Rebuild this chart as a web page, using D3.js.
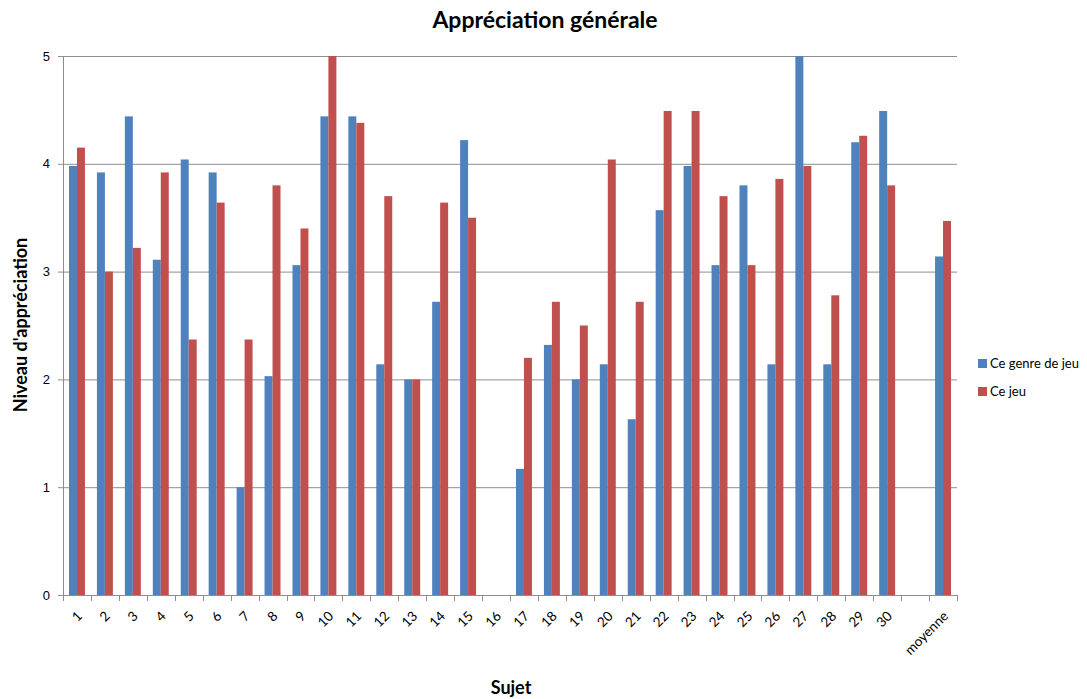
<!DOCTYPE html>
<html>
<head>
<meta charset="utf-8">
<script src="https://cdn.jsdelivr.net/npm/d3@7"></script>
<style>
body { margin: 0; background: #fff; }
svg { font-family: Lato, "Open Sans", sans-serif; }
.grid line { stroke: #8e8e8e; stroke-width: 1; }
.tick text { fill: #000; }
</style>
</head>
<body>
<svg id="chart" width="1087" height="699"></svg>
<script>
//////////////////////////////////////
// Data

const sujets = ["1","2","3","4","5","6","7","8","9","10","11","12","13","14","15","16","17","18","19","20","21","22","23","24","25","26","27","28","29","30"," ","moyenne"]
const seriesNames = ["Ce genre de jeu", "Ce jeu"]
const genreJeu = [3.98,3.92,4.44,3.11,4.04,3.92,1.0,2.03,3.06,4.44,4.44,2.14,2.0,2.72,4.22,null,1.17,2.32,2.0,2.14,1.63,3.57,3.98,3.06,3.8,2.14,5.0,2.14,4.2,4.49,null,3.14]
const ceJeu = [4.15,3.0,3.22,3.92,2.37,3.64,2.37,3.8,3.4,5.0,4.38,3.7,2.0,3.64,3.5,null,2.2,2.72,2.5,4.04,2.72,4.49,4.49,3.7,3.06,3.86,3.98,2.78,4.26,3.8,null,3.47]
const yTicks = [0,1,2,3,4,5]
const colors = ["#4F81BD", "#C0504D"]

//////////////////////////////////////
// Layout

const margin = {top: 56, right: 130, bottom: 104, left: 63}
const width = 1087, height = 699
const plotW = width - margin.left - margin.right
const plotH = height - margin.top - margin.bottom

const svg = d3.select("#chart")
const g = svg.append("g").attr("transform", "translate(" + margin.left + "," + margin.top + ")")

const x = d3.scaleBand().domain(sujets).range([0, plotW]).padding(0)
const x1 = d3.scaleBand().domain(seriesNames).range([0, x.bandwidth()]).paddingInner(0).paddingOuter(0.75)
const y = d3.scaleLinear().domain([0, 5]).range([plotH, 0])

// grid
g.append("g").attr("class", "grid")
	.selectAll("line").data(yTicks.filter(d => d > 0)).enter().append("line")
	.attr("x1", 0).attr("x2", plotW)
	.attr("y1", d => y(d) + 0.5).attr("y2", d => y(d) + 0.5)

// bars
const rows = sujets.map(function(s, i) { return {sujet: s, vals: [genreJeu[i], ceJeu[i]]} })
g.selectAll(".cat").data(rows).enter().append("g")
	.attr("transform", d => "translate(" + x(d.sujet) + ",0)")
	.selectAll("rect")
	.data(d => d.vals.map((v, k) => ({name: seriesNames[k], v: v, k: k})).filter(e => e.v != null))
	.enter().append("rect")
	.attr("x", d => x1(d.name))
	.attr("width", x1.bandwidth())
	.attr("y", d => y(d.v))
	.attr("height", d => plotH - y(d.v))
	.attr("fill", d => colors[d.k])

// y axis
const yAxis = g.append("g")
	.call(d3.axisLeft(y).tickValues(yTicks).tickFormat(d3.format("d")).tickSize(5).tickPadding(8))
yAxis.select(".domain").attr("stroke", "#8e8e8e")
yAxis.selectAll(".tick line").attr("stroke", "#8e8e8e")
yAxis.selectAll("text").style("font-size", "13px")

// x axis : ticks between categories
const xAxis = g.append("g").attr("transform", "translate(0," + plotH + ")")
xAxis.append("line").attr("x1", 0).attr("x2", plotW).attr("y1", 0.5).attr("y2", 0.5).attr("stroke", "#8e8e8e")
xAxis.selectAll(".xt").data(d3.range(sujets.length + 1)).enter().append("line")
	.attr("x1", d => Math.round(d * x.step()) + 0.5).attr("x2", d => Math.round(d * x.step()) + 0.5)
	.attr("y1", 0).attr("y2", 6).attr("stroke", "#8e8e8e")
xAxis.selectAll(".xl").data(sujets).enter().append("text")
	.attr("text-anchor", "end")
	.attr("transform", d => "translate(" + (x(d) + x.bandwidth() / 2 + 6) + ",22) rotate(-45)")
	.style("font-size", "13.5px")
	.text(d => d.trim())

// titles
svg.append("text").attr("x", 545).attr("y", 28).attr("text-anchor", "middle")
	.style("font-size", "23px").style("font-weight", "bold").text("Appréciation générale")
svg.append("text").attr("x", 511).attr("y", 694).attr("text-anchor", "middle")
	.style("font-size", "18px").style("font-weight", "bold").text("Sujet")
svg.append("text").attr("transform", "translate(27,325) rotate(-90)").attr("text-anchor", "middle")
	.style("font-size", "18px").style("font-weight", "bold").text("Niveau d'appréciation")

// legend
const legend = svg.append("g").attr("transform", "translate(978,359)")
seriesNames.forEach(function(s, i) {
	legend.append("rect").attr("x", 0).attr("y", i * 28).attr("width", 9).attr("height", 9).attr("fill", colors[i])
	legend.append("text").attr("x", 12).attr("y", i * 28 + 9).style("font-size", "13px").text(s)
})
</script>
</body>
</html>
